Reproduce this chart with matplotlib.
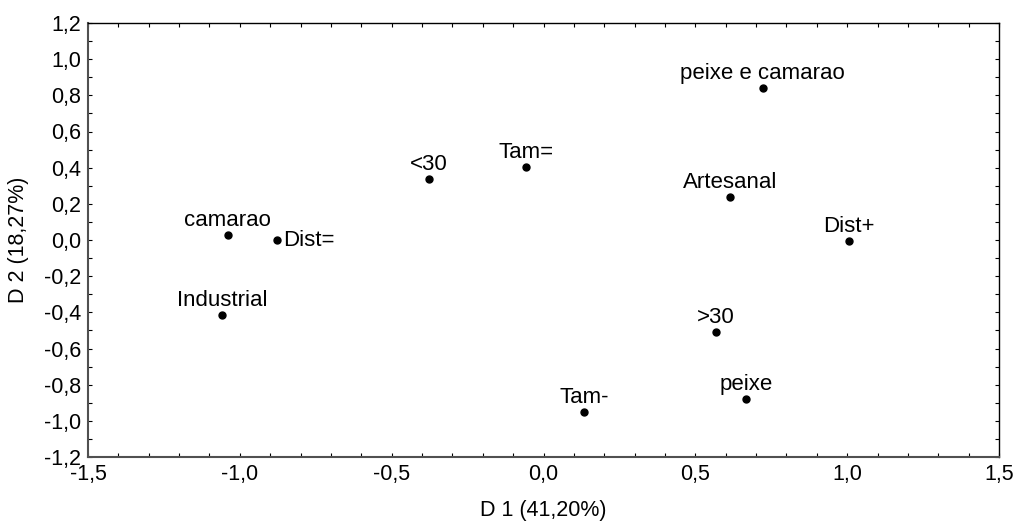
import matplotlib
matplotlib.use("Agg")
import matplotlib.pyplot as plt
from matplotlib.ticker import MultipleLocator, FuncFormatter

labels = ["peixe e camarao", "Artesanal", "Dist+", ">30", "peixe", "Tam-",
          "Tam=", "<30", "camarao", "Dist=", "Industrial"]
d1 = [0.722, 0.613, 1.005, 0.568, 0.667, 0.133, -0.057, -0.378, -1.040, -0.879, -1.058]
d2 = [0.841, 0.238, -0.006, -0.507, -0.879, -0.953, 0.405, 0.337, 0.026, 0.000, -0.413]
label_side = ["top", "top", "top", "top", "top", "top", "top", "top", "top", "right", "top"]

plt.rcParams['font.family'] = ['Liberation Sans', 'DejaVu Sans']
fig = plt.figure(figsize=(10.15, 5.24), dpi=100)
ax = fig.add_axes([88/1015, 1-457/524, (999-88)/1015, (457-23)/524])

ax.plot(d1, d2, 'o', color='black', markersize=5, linestyle='none')
for x, y, t, s in zip(d1, d2, labels, label_side):
    if s == "right":
        ax.annotate(t, (x, y), xytext=(4.5, 0), textcoords='offset points',
                    ha='left', va='center', fontsize=16)
    else:
        ax.annotate(t, (x, y), xytext=(0, 6.5), textcoords='offset points',
                    ha='center', va='baseline', fontsize=16)

ax.set_xlim(-1.5, 1.5)
ax.set_ylim(-1.2, 1.2)
ax.xaxis.set_major_locator(MultipleLocator(0.5))
ax.xaxis.set_minor_locator(MultipleLocator(0.1))
ax.yaxis.set_major_locator(MultipleLocator(0.2))
ax.yaxis.set_minor_locator(MultipleLocator(0.1))
fmt_x = FuncFormatter(lambda v, p: f"{v:.1f}".replace('.', ',').replace('-0,0', '0,0'))
ax.xaxis.set_major_formatter(fmt_x)
ax.yaxis.set_major_formatter(fmt_x)
ax.tick_params(which='both', direction='in', top=True, right=True, length=3, width=0.8, labelsize=15.5, pad=5)
for sp in ['left', 'bottom']:
    ax.spines[sp].set_color('#505050')
    ax.spines[sp].set_linewidth(1.5)
for sp in ['top', 'right']:
    ax.spines[sp].set_color('black')
    ax.spines[sp].set_linewidth(1.0)

ax.set_xlabel("D 1 (41,20%)", fontsize=15.5, labelpad=11)
ax.set_ylabel("D 2 (18,27%)", fontsize=15.5, labelpad=11)

fig.savefig("out.png", dpi=100)
